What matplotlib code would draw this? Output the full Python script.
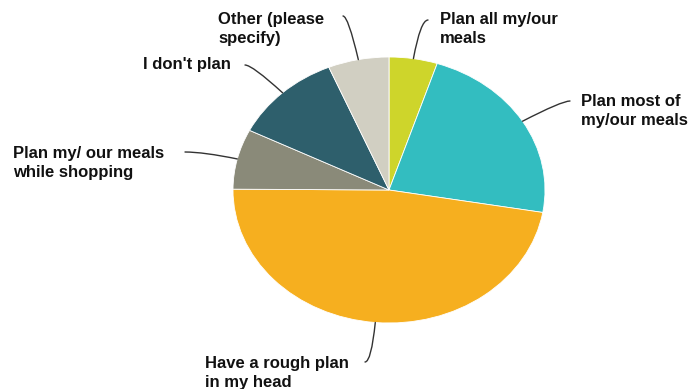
import numpy as np
import matplotlib
matplotlib.use("Agg")
import matplotlib.pyplot as plt

# Survey answers: how people plan their meals (share of respondents, %)
categories = [
    "Plan all my/our\nmeals",
    "Plan most of\nmy/our meals",
    "Have a rough plan\nin my head",
    "Plan my/ our meals\nwhile shopping",
    "I don't plan",
    "Other (please\nspecify)",
]
shares = [5.0, 22.7, 47.4, 7.3, 11.3, 6.3]
colors = ["#CED52B", "#33BDC0", "#F6AF1F", "#8A8A79", "#2E5F6C", "#D1CFC2"]

W, H = 698, 389
fig = plt.figure(figsize=(W / 100, H / 100), dpi=100)
ax = fig.add_axes([0, 0, 1, 1])

# pie centre and radii in pixels (the pie is drawn slightly wider than tall)
cx, cy, rx, ry = 389, 190, 156, 133

wedges, _ = ax.pie(
    shares,
    colors=colors,
    startangle=90,
    counterclock=False,
    radius=1.0,
    wedgeprops=dict(edgecolor="white", linewidth=0.6),
)
ax.set_aspect("auto")
ax.set_xlim(-cx / rx, (W - cx) / rx)
ax.set_ylim(-(H - cy) / ry, cy / ry)
ax.axis("off")


def fig_xy(px, py):
    return px / W, 1 - py / H


# label block (left, top) and leader-line end near the label, in pixels
label_pos = [
    (440, 12),
    (581, 94),
    (205, 356),
    (13, 146),
    (143, 57),
    (218, 12),
]
leader_end = [
    (428, 20),
    (570, 101),
    (365, 362),
    (185, 152),
    (245, 65),
    (343, 16),
]

font = dict(family=["Liberation Sans", "DejaVu Sans"], fontsize=12,
            fontweight="bold", color="#111111")

for w, text, (lx, ly), (ex, ey) in zip(wedges, categories, label_pos, leader_end):
    mid = np.deg2rad((w.theta1 + w.theta2) / 2)
    px0, py0 = np.cos(mid), np.sin(mid)
    disp_ang = np.rad2deg(np.arctan2(ry * py0, rx * px0))
    ax.annotate(
        "",
        xy=(px0, py0), xycoords="data",
        xytext=fig_xy(ex, ey), textcoords="figure fraction",
        arrowprops=dict(arrowstyle="-", color="#333333", lw=1.0,
                        shrinkA=0, shrinkB=0,
                        connectionstyle=f"angle3,angleA=0,angleB={disp_ang:.1f}"),
    )
    fx, fy = fig_xy(lx, ly)
    fig.text(fx, fy, text, ha="left", va="top", linespacing=1.32, **font)

fig.savefig("out.png", dpi=100)
